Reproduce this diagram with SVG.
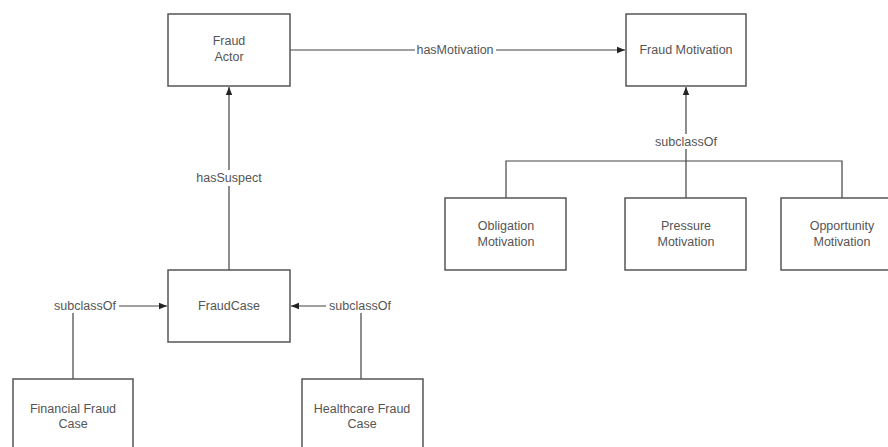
<svg xmlns="http://www.w3.org/2000/svg" width="888" height="447" viewBox="0 0 888 447">
<defs>
<style>
.box{fill:#ffffff;stroke:#555555;stroke-width:1.5}
.t{font-family:"Liberation Sans",Arial,sans-serif;font-size:12.5px;fill:#555555;text-anchor:middle;dominant-baseline:central}
.c{fill:none;stroke:#444444;stroke-width:1.2}
.lbg{fill:#ffffff}
</style>
<marker id="ah" viewBox="0 0 10 10" refX="10" refY="5" markerWidth="8" markerHeight="8" markerUnits="userSpaceOnUse" orient="auto">
<path d="M0,1 L10,5 L0,9 z" fill="#222222"/>
</marker>
</defs>
<rect width="888" height="447" fill="#ffffff"/>
<g id="connectors">
<line class="c" x1="290" y1="50" x2="625" y2="50" marker-end="url(#ah)"/>
<rect class="lbg" x="415" y="43" width="81" height="14"/>
<text class="t" x="455" y="50">hasMotivation</text>
<line class="c" x1="229" y1="270" x2="229" y2="87" marker-end="url(#ah)"/>
<rect class="lbg" x="192" y="170" width="74" height="16"/>
<text class="t" x="229" y="178">hasSuspect</text>
<polyline class="c" points="506,198 506,161 842,161 842,198"/>
<line class="c" x1="686" y1="198" x2="686" y2="87" marker-end="url(#ah)"/>
<rect class="lbg" x="653" y="134" width="66" height="15"/>
<text class="t" x="686" y="142">subclassOf</text>
<polyline class="c" points="73,379 73,306 167,306" marker-end="url(#ah)"/>
<rect class="lbg" x="51" y="298" width="68" height="15"/>
<text class="t" x="85" y="306">subclassOf</text>
<polyline class="c" points="361,379 361,306 291,306" marker-end="url(#ah)"/>
<rect class="lbg" x="326" y="298" width="68" height="15"/>
<text class="t" x="360" y="306">subclassOf</text>
</g>
<g id="fraud-actor">
<rect class="box" x="168" y="14" width="122" height="72"/>
<text class="t" x="229" y="41">Fraud</text>
<text class="t" x="229" y="57">Actor</text>
</g>
<g id="fraud-motivation">
<rect class="box" x="626" y="14" width="120" height="72"/>
<text class="t" x="686" y="50">Fraud Motivation</text>
</g>
<g id="obligation-motivation">
<rect class="box" x="445" y="198" width="121" height="72"/>
<text class="t" x="506" y="226">Obligation</text>
<text class="t" x="506" y="242">Motivation</text>
</g>
<g id="pressure-motivation">
<rect class="box" x="625" y="198" width="121" height="72"/>
<text class="t" x="686" y="226">Pressure</text>
<text class="t" x="686" y="242">Motivation</text>
</g>
<g id="opportunity-motivation">
<rect class="box" x="781" y="198" width="122" height="72"/>
<text class="t" x="842" y="226">Opportunity</text>
<text class="t" x="842" y="242">Motivation</text>
</g>
<g id="fraud-case">
<rect class="box" x="168" y="270" width="122" height="72"/>
<text class="t" x="229" y="306">FraudCase</text>
</g>
<g id="financial-fraud-case">
<rect class="box" x="13" y="379" width="120" height="72"/>
<text class="t" x="73" y="409">Financial Fraud</text>
<text class="t" x="73" y="424">Case</text>
</g>
<g id="healthcare-fraud-case">
<rect class="box" x="302" y="379" width="121" height="72"/>
<text class="t" x="362" y="409">Healthcare Fraud</text>
<text class="t" x="362" y="424">Case</text>
</g>
</svg>
